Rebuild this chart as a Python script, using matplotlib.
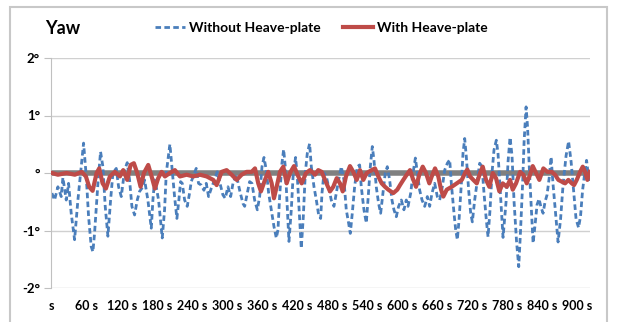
import numpy as np
import matplotlib.pyplot as plt
from matplotlib.patches import Rectangle

plt.rcParams['font.family'] = ['Lato', 'DejaVu Sans']
plt.rcParams['font.weight'] = 'bold'

# yaw angle (deg) without heave-plate
t_without = [0, 4.6, 10.3, 16, 18.9, 24.6, 28.6, 33.1, 38.9, 44.6, 50.3, 54.3, 58.9, 62.9, 67.4, 70.3,
             73.1, 78.9, 83.4, 87.4, 91.4, 96, 100.6, 104.6, 110.3, 114.3, 118.9, 124.6, 129.1, 133.1,
             137.1, 141.7, 146.3, 150.3, 156, 158.8, 164.5, 170.3, 173.1, 176, 178.8, 182.8, 189.1,
             193.1, 196, 202.2, 205.6, 210.2, 214.2, 217.6, 220.5, 223.4, 227.4, 231.9, 235.9, 238.8,
             243.3, 247.3, 251.3, 255.9, 260.5, 264.5, 268.5, 273, 278.7, 283.3, 287.3, 293, 297,
             301.7, 306.3, 310.3, 316, 321.7, 327.4, 330.3, 334.8, 338.8, 342.8, 347.4, 352, 356, 360,
             363.4, 367.4, 371.4, 375.9, 380.5, 384.5, 387.4, 390.2, 394.2, 397.1, 399.9, 403.3, 406.2,
             410.2, 413.6, 417.6, 420.5, 423.9, 427.3, 430.8, 434.2, 437.6, 441.6, 444.5, 449.1, 453.1,
             457.1, 460.5, 462.8, 466.2, 470.2, 474.2, 478.7, 483.3, 487.3, 491.3, 495.9, 500.4, 504.4,
             508.4, 511.3, 514.7, 518.7, 523.3, 527.3, 530.1, 534.7, 538.7, 541.6, 545.6, 549, 551.8,
             555.8, 559.8, 563.3, 567.3, 571.2, 574.7, 578.7, 582.7, 586.1, 590.1, 594.1, 598.7, 603.2,
             607.2, 610.2, 614.8, 618.8, 622.8, 626.2, 630.2, 634.2, 638.8, 643.3, 647.3, 651.3, 655.9,
             660.4, 664.4, 669, 673, 677.6, 681.6, 684.4, 689, 691.9, 694.7, 697.6, 701.6, 704.4, 707.3,
             710.1, 714.1, 717.6, 720.4, 724.4, 729, 733, 737, 740.4, 744.4, 747.3, 750.7, 754.1, 757.5,
             761.5, 764.4, 767.8, 771.2, 773, 778.2, 781.6, 785, 788.4, 791.9, 796.2, 799.9, 803,
             806.5, 809.1, 812.5, 815, 818.4, 821.9, 824.5, 827.9, 831.3, 834.7, 838.2, 841.6, 845,
             848.4, 851.9, 855.3, 858.7, 863, 867.3, 871.6, 875.9, 881, 885.3, 889.6, 893.9, 898.1,
             902.4, 905.8, 909.3, 913.6, 916.1, 918.7, 921.5]
yaw_without = [-0.35, -0.47, -0.24, -0.41, -0.08, -0.47, -0.18, -0.70, -1.16, -0.47, 0.11, 0.52, -0.06,
               -0.76, -1.28, -1.37, -1.05, -0.18, 0.37, 0.11, -0.58, -1.10, -0.47, 0.0, 0.08, -0.24,
               -0.41, 0.05, 0.18, -0.12, -0.58, -0.73, -0.47, -0.32, -0.24, -0.12, -0.47, -0.96, -0.47,
               -0.12, -0.24, -0.47, -1.13, -0.64, 0.0, 0.50, 0.11, -0.41, -0.79, -0.47, -0.15, -0.18,
               -0.47, -0.58, -0.35, -0.15, -0.03, 0.08, -0.18, -0.21, -0.30, -0.18, -0.41, -0.27, -0.12,
               0.02, -0.15, -0.38, -0.44, -0.24, -0.41, -0.18, -0.03, -0.30, -0.53, -0.58, -0.35, -0.15,
               -0.18, -0.47, -0.64, -0.41, 0.11, 0.27, 0.05, -0.35, -0.64, -0.93, -1.13, -0.99, -0.41,
               0.17, 0.41, 0.11, -0.58, -1.19, -0.64, 0.0, 0.27, -0.06, -0.70, -1.31, -0.76, 0.0, 0.34,
               0.51, 0.11, -0.24, -0.47, -0.73, -0.79, -0.35, 0.0, -0.06, -0.24, -0.47, -0.58, -0.35,
               -0.12, 0.11, -0.12, -0.64, -0.87, -1.05, -0.70, -0.24, 0.11, 0.14, -0.24, -0.64, -0.87,
               -0.47, 0.11, 0.46, 0.23, -0.24, -0.53, -0.70, -0.35, 0.0, 0.11, -0.12, -0.47, -0.64,
               -0.76, -0.58, -0.47, -0.64, -0.47, -0.58, -0.35, 0.0, 0.26, 0.0, -0.30, -0.47, -0.58,
               -0.41, -0.58, -0.35, -0.18, -0.41, -0.47, -0.24, 0.05, 0.17, 0.23, -0.18, -0.70, -0.99,
               -1.16, -0.82, -0.18, 0.34, 0.60, 0.28, -0.30, -0.70, -0.85, -0.47, -0.12, 0.17, 0.11,
               -0.35, -0.82, -1.11, -0.64, 0.0, 0.40, 0.57, 0.34, -0.24, -0.82, -1.12, -0.50, 0.20,
               0.62, 0.30, -0.50, -1.20, -1.63, -1.00, -0.20, 0.55, 1.15, 0.80, 0.0, -0.70, -1.22,
               -0.90, -0.55, -0.45, -0.60, -0.70, -0.50, -0.38, -0.10, 0.28, -0.20, -0.70, -1.20, -0.80,
               -0.20, 0.30, 0.55, 0.20, -0.30, -0.80, -0.95, -0.75, -0.30, 0.05, 0.22, 0.0, -0.15]

# yaw angle (deg) with heave-plate
t_with = [0, 10.3, 25.2, 39.4, 50.9, 58.3, 63.9, 69.8, 76.6, 81.1, 86.9, 92.6, 99.4, 108, 116.6, 122.2,
          129.1, 134.9, 140.5, 146.2, 152, 157.7, 165.1, 170.9, 176.5, 182.2, 188, 193.7, 202.3, 210.8,
          219.4, 230.9, 242.2, 253.7, 265.2, 276.5, 282.3, 290.9, 299.4, 308, 316.6, 325.1, 333.7,
          342.3, 348, 353.6, 358.2, 365.1, 370.7, 376.6, 380.5, 385.1, 390.8, 396.5, 402.3, 407.9,
          414.8, 422.2, 428, 435.4, 442.2, 450.8, 456.4, 462.3, 467.9, 476.5, 482.1, 488, 493.6,
          498.3, 503.9, 510.8, 516.4, 522.3, 527.9, 533.6, 539.4, 548, 553.6, 559.3, 565.1, 570.8,
          576.4, 585, 591.8, 596.5, 602.1, 608, 613.6, 618.2, 623.9, 629.5, 635.4, 641, 646.7, 650.8,
          656.5, 662.1, 666.8, 670.7, 676.5, 685.1, 693.7, 702.3, 707.9, 711.8, 716.5, 722.1, 728,
          733.6, 738.2, 743.9, 749.5, 755.4, 761, 766.7, 772.5, 779.4, 785, 789.6, 795.3, 802.2,
          807.8, 813.6, 819.3, 823.9, 829.6, 835.2, 842.1, 848.9, 856.5, 862.1, 867.8, 873.6, 879.3,
          884.9, 890.8, 894.7, 899.3, 905, 909.6, 913.6, 917.5, 921.5]
yaw_with = [0.0, -0.03, 0.0, -0.03, 0.02, -0.06, -0.24, -0.31, 0.0, 0.08, -0.18, -0.27, -0.06, 0.02,
            -0.06, 0.05, -0.12, 0.14, 0.17, 0.0, -0.24, 0.0, 0.14, -0.06, -0.27, -0.09, 0.02, -0.06,
            0.0, 0.05, -0.06, -0.03, -0.06, -0.03, -0.06, -0.12, -0.21, 0.02, 0.05, -0.03, -0.12,
            -0.03, 0.02, 0.02, 0.08, -0.18, -0.32, -0.12, 0.02, -0.18, -0.44, -0.24, 0.02, 0.11,
            -0.18, 0.0, 0.12, -0.06, -0.18, 0.0, 0.05, -0.03, 0.05, 0.02, -0.12, -0.32, -0.24, -0.09,
            -0.18, -0.32, -0.06, 0.12, 0.02, -0.12, 0.05, -0.12, 0.0, 0.05, 0.08, -0.06, -0.18, -0.24,
            -0.29, -0.35, -0.29, -0.21, -0.12, -0.03, 0.05, -0.09, -0.24, -0.03, 0.11, 0.0, -0.18,
            -0.06, 0.08, -0.06, -0.29, -0.41, -0.29, -0.24, -0.18, -0.12, 0.0, 0.06, -0.06, -0.12,
            -0.18, 0.0, 0.11, -0.12, -0.24, 0.0, -0.09, -0.32, -0.18, -0.24, -0.12, -0.29, -0.18,
            0.02, -0.03, -0.18, -0.03, 0.12, 0.0, -0.12, 0.08, 0.02, 0.02, -0.03, -0.12, -0.15, -0.18,
            -0.12, -0.18, -0.21, -0.12, 0.02, 0.11, 0.02, -0.12, 0.02]

xticks = list(range(0, 901, 60))
xtick_labels = ['s'] + ['%d s' % v for v in xticks[1:]]
yticks = [-2, -1, 0, 1, 2]
ytick_labels = ['-2°', '-1°', '°', '1°', '2°']

fig = plt.figure(figsize=(6.18, 3.22), dpi=100)
ax = fig.add_axes([51 / 618, 1 - 288 / 322, (590 - 51) / 618, (288 - 58) / 322])

ax.axhline(0, color='#808080', lw=4, zorder=1)
ax.plot(t_without, yaw_without, color='#4a7ebb', lw=2, dashes=(2.0, 1.2), zorder=2,
        label='Without Heave-plate')
ax.plot(t_with, yaw_with, color='#be4b48', lw=3, zorder=3, label='With Heave-plate')

ax.set_xlim(-1.5, 922)
ax.set_ylim(-2, 2)
ax.set_xticks(xticks)
ax.set_xticklabels(xtick_labels)
ax.set_yticks(yticks)
ax.set_yticklabels(ytick_labels)
ax.grid(axis='y', color='#d0d0d0', lw=1)
ax.set_axisbelow(True)
for s in ['top', 'right', 'bottom']:
    ax.spines[s].set_visible(False)
ax.spines['left'].set_color('#c0c0c0')
ax.tick_params(axis='y', length=5, color='#c0c0c0', labelsize=9.5, pad=3)
ax.tick_params(axis='x', length=0, labelsize=9, pad=9)

fig.text(45 / 618, 1 - 28 / 322, 'Yaw', fontsize=13, fontweight='bold', va='center')
ax.legend(loc='center left', bbox_to_anchor=(142 / 618, 1 - 28 / 322), bbox_transform=fig.transFigure,
          ncol=2, frameon=False, fontsize=10, handlelength=2.2, handletextpad=0.25, columnspacing=1.6,
          borderpad=0.4)

fig.patches.append(Rectangle((10 / 618, -0.1), 597 / 618, 1.1 - 7 / 322, transform=fig.transFigure,
                             fill=False, edgecolor='#c8c8c8', lw=1.5))

fig.savefig('out.png', dpi=100)
